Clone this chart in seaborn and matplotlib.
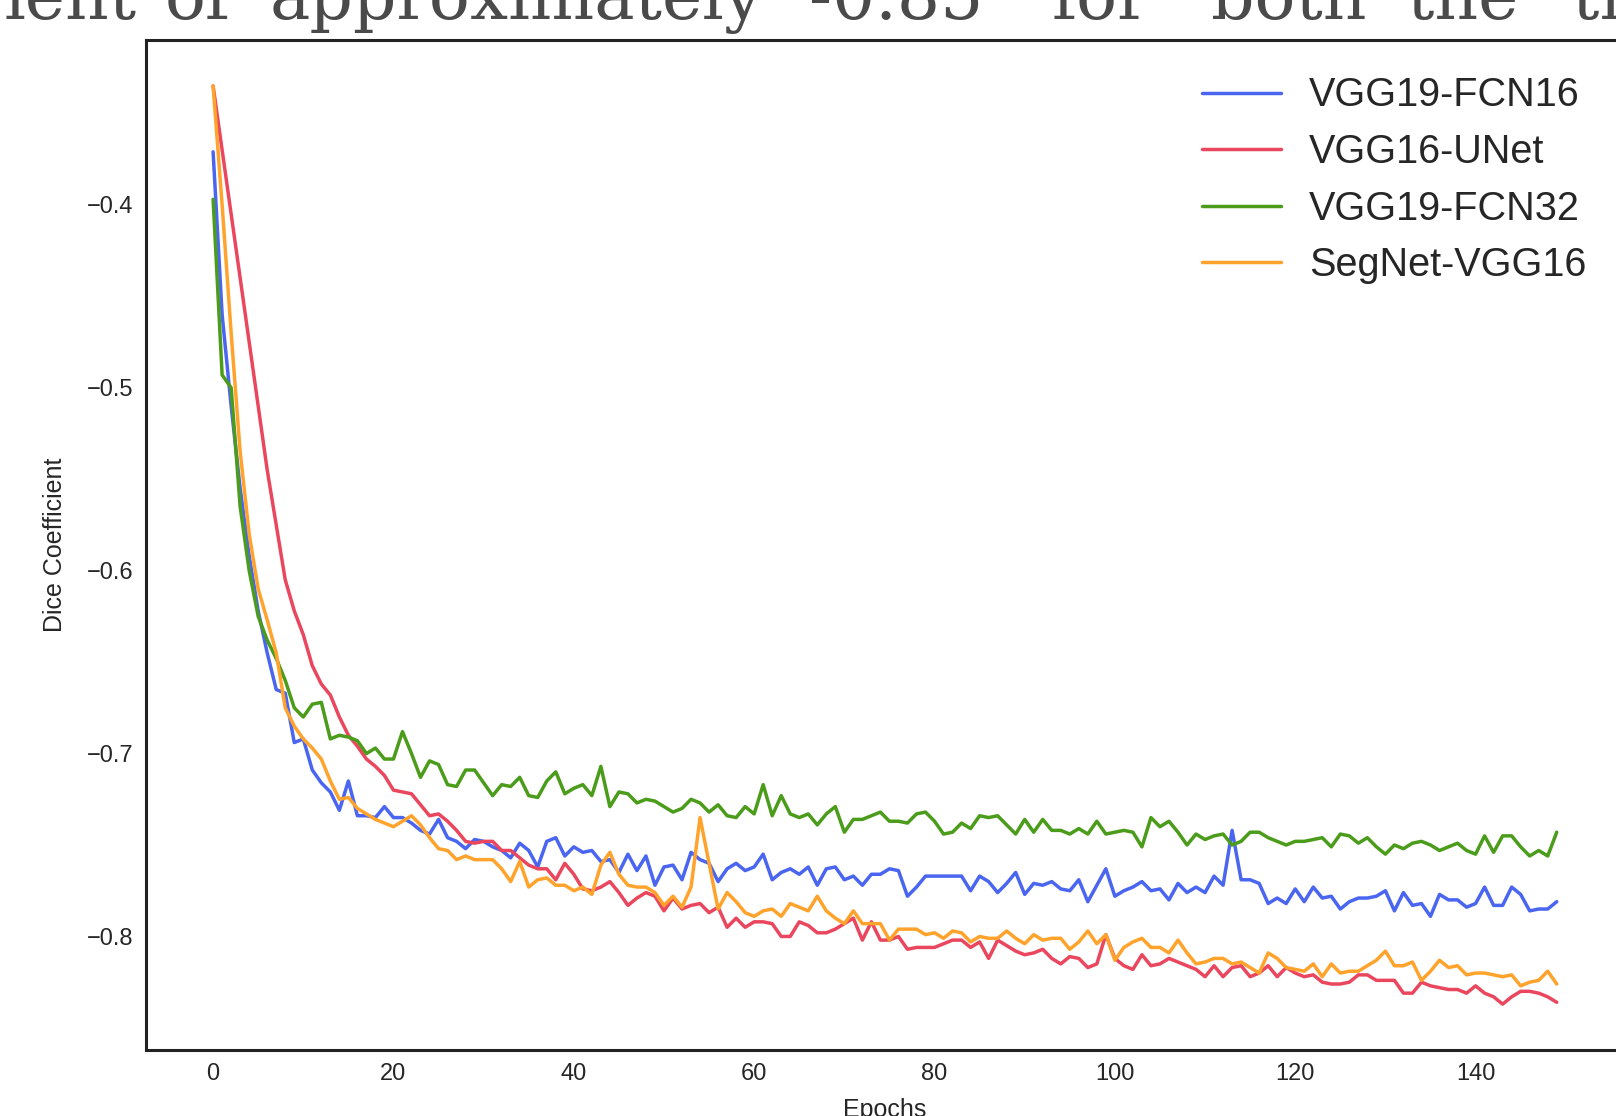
import matplotlib
matplotlib.use('Agg')
import numpy as np
import matplotlib.pyplot as plt
import seaborn as sns

# dice coefficient per epoch
fcn16 = [-0.371, -0.460, -0.510, -0.555, -0.592, -0.622, -0.645, -0.665, -0.667, -0.694,
         -0.692, -0.709, -0.716, -0.721, -0.731, -0.715, -0.734, -0.734, -0.735, -0.729,
         -0.735, -0.735, -0.738, -0.742, -0.744, -0.736, -0.746, -0.748, -0.752, -0.747,
         -0.748, -0.751, -0.753, -0.757, -0.749, -0.753, -0.762, -0.748, -0.746, -0.756,
         -0.751, -0.754, -0.753, -0.759, -0.758, -0.765, -0.755, -0.764, -0.756, -0.772,
         -0.762, -0.761, -0.769, -0.754, -0.758, -0.760, -0.770, -0.763, -0.760, -0.764,
         -0.762, -0.755, -0.769, -0.765, -0.763, -0.766, -0.762, -0.772, -0.763, -0.762,
         -0.769, -0.767, -0.772, -0.766, -0.766, -0.763, -0.764, -0.778, -0.773, -0.767,
         -0.767, -0.767, -0.767, -0.767, -0.775, -0.767, -0.770, -0.776, -0.771, -0.765,
         -0.777, -0.771, -0.772, -0.770, -0.774, -0.775, -0.769, -0.781, -0.772, -0.763,
         -0.778, -0.775, -0.773, -0.770, -0.775, -0.774, -0.780, -0.771, -0.776, -0.773,
         -0.776, -0.767, -0.772, -0.742, -0.769, -0.769, -0.771, -0.782, -0.779, -0.782,
         -0.774, -0.781, -0.773, -0.779, -0.778, -0.785, -0.781, -0.779, -0.779, -0.778,
         -0.775, -0.786, -0.776, -0.783, -0.782, -0.789, -0.777, -0.780, -0.780, -0.784,
         -0.782, -0.773, -0.783, -0.783, -0.773, -0.777, -0.786, -0.785, -0.785, -0.781]

unet = [-0.335, -0.370, -0.405, -0.440, -0.475, -0.510, -0.545, -0.575, -0.605, -0.622,
        -0.635, -0.652, -0.662, -0.668, -0.680, -0.690, -0.696, -0.703, -0.707, -0.712,
        -0.720, -0.721, -0.722, -0.728, -0.734, -0.733, -0.737, -0.742, -0.748, -0.749,
        -0.748, -0.748, -0.753, -0.753, -0.757, -0.761, -0.763, -0.763, -0.769, -0.760,
        -0.766, -0.774, -0.775, -0.773, -0.770, -0.776, -0.783, -0.779, -0.776, -0.778,
        -0.786, -0.779, -0.785, -0.783, -0.782, -0.787, -0.784, -0.795, -0.790, -0.795,
        -0.792, -0.792, -0.793, -0.800, -0.800, -0.792, -0.794, -0.798, -0.798, -0.796,
        -0.793, -0.790, -0.802, -0.792, -0.802, -0.802, -0.800, -0.807, -0.806, -0.806,
        -0.806, -0.804, -0.802, -0.802, -0.806, -0.803, -0.812, -0.802, -0.805, -0.808,
        -0.810, -0.809, -0.807, -0.812, -0.815, -0.811, -0.812, -0.817, -0.815, -0.799,
        -0.812, -0.816, -0.818, -0.810, -0.816, -0.815, -0.812, -0.814, -0.816, -0.818,
        -0.822, -0.816, -0.822, -0.817, -0.816, -0.822, -0.820, -0.816, -0.822, -0.817,
        -0.820, -0.822, -0.821, -0.825, -0.826, -0.826, -0.825, -0.821, -0.821, -0.824,
        -0.824, -0.824, -0.831, -0.831, -0.825, -0.827, -0.828, -0.829, -0.829, -0.831,
        -0.827, -0.831, -0.833, -0.837, -0.833, -0.830, -0.830, -0.831, -0.833, -0.836]

fcn32 = [-0.397, -0.493, -0.500, -0.565, -0.600, -0.625, -0.638, -0.648, -0.660, -0.675,
         -0.680, -0.673, -0.672, -0.692, -0.690, -0.691, -0.693, -0.700, -0.697, -0.703,
         -0.703, -0.688, -0.700, -0.713, -0.704, -0.706, -0.717, -0.718, -0.709, -0.709,
         -0.716, -0.723, -0.717, -0.718, -0.713, -0.723, -0.724, -0.715, -0.710, -0.722,
         -0.719, -0.717, -0.723, -0.707, -0.729, -0.721, -0.722, -0.727, -0.725, -0.726,
         -0.729, -0.732, -0.730, -0.725, -0.727, -0.732, -0.728, -0.734, -0.735, -0.729,
         -0.733, -0.717, -0.734, -0.723, -0.733, -0.735, -0.733, -0.739, -0.733, -0.729,
         -0.743, -0.736, -0.736, -0.734, -0.732, -0.737, -0.737, -0.738, -0.733, -0.732,
         -0.737, -0.744, -0.743, -0.738, -0.741, -0.734, -0.735, -0.734, -0.739, -0.744,
         -0.736, -0.743, -0.736, -0.742, -0.742, -0.744, -0.741, -0.744, -0.737, -0.744,
         -0.743, -0.742, -0.743, -0.751, -0.735, -0.740, -0.737, -0.743, -0.750, -0.744,
         -0.747, -0.745, -0.744, -0.750, -0.748, -0.743, -0.743, -0.746, -0.748, -0.750,
         -0.748, -0.748, -0.747, -0.746, -0.751, -0.744, -0.745, -0.749, -0.746, -0.751,
         -0.755, -0.750, -0.752, -0.749, -0.748, -0.750, -0.753, -0.751, -0.749, -0.753,
         -0.755, -0.745, -0.754, -0.745, -0.745, -0.751, -0.756, -0.753, -0.756, -0.743]

segnet = [-0.335, -0.400, -0.470, -0.535, -0.580, -0.610, -0.627, -0.645, -0.675, -0.685,
          -0.692, -0.697, -0.703, -0.715, -0.725, -0.724, -0.730, -0.733, -0.736, -0.738,
          -0.740, -0.737, -0.734, -0.739, -0.746, -0.752, -0.753, -0.758, -0.756, -0.758,
          -0.758, -0.758, -0.763, -0.770, -0.759, -0.773, -0.769, -0.768, -0.772, -0.772,
          -0.775, -0.773, -0.777, -0.761, -0.754, -0.766, -0.772, -0.773, -0.773, -0.776,
          -0.783, -0.778, -0.784, -0.773, -0.735, -0.760, -0.785, -0.776, -0.781, -0.787,
          -0.789, -0.786, -0.785, -0.789, -0.782, -0.784, -0.786, -0.778, -0.786, -0.790,
          -0.793, -0.786, -0.793, -0.793, -0.793, -0.802, -0.796, -0.796, -0.796, -0.799,
          -0.798, -0.801, -0.797, -0.798, -0.803, -0.800, -0.801, -0.801, -0.797, -0.801,
          -0.804, -0.799, -0.802, -0.801, -0.801, -0.807, -0.803, -0.797, -0.804, -0.799,
          -0.813, -0.806, -0.803, -0.801, -0.806, -0.806, -0.809, -0.802, -0.809, -0.815,
          -0.814, -0.812, -0.812, -0.815, -0.814, -0.817, -0.820, -0.809, -0.812, -0.817,
          -0.818, -0.819, -0.815, -0.822, -0.815, -0.820, -0.819, -0.819, -0.816, -0.813,
          -0.808, -0.816, -0.816, -0.814, -0.824, -0.819, -0.813, -0.817, -0.816, -0.821,
          -0.820, -0.820, -0.821, -0.822, -0.821, -0.827, -0.825, -0.824, -0.819, -0.826]

models = ['VGG19-FCN16', 'VGG16-UNet', 'VGG19-FCN32', 'SegNet-VGG16']
colors = ['#4a66f0', '#ea475e', '#4c9c1c', '#ffa32c']
epochs = np.arange(len(fcn16))

# words of the cut-off page sentence above the chart (justified text)
caption_words = ['ient', 'of', 'approximately', '-0.85', 'for', 'both', 'the', 'tra']
caption_x_px = [4, 165, 270, 809, 1051, 1211, 1407, 1572]

sns.set_style('white')
plt.rcParams['font.family'] = ['Liberation Sans', 'DejaVu Sans']

fig = plt.figure(figsize=(16.16, 11.16), dpi=100)
ax = fig.add_axes([0.0903, 0.0591, 0.9146, 0.905])

for name, vals, c in zip(models, [fcn16, unet, fcn32, segnet], colors):
    sns.lineplot(x=epochs, y=vals, ax=ax, color=c, linewidth=2.5, label=name)

ax.set_xticks(range(0, 141, 20))
ax.set_yticks([-0.4, -0.5, -0.6, -0.7, -0.8])
ax.tick_params(labelsize=17, pad=9, length=0)
ax.set_xlabel('Epochs', fontsize=18, labelpad=10)
ax.set_ylabel('Dice Coefficient', fontsize=18, labelpad=14)
for s in ax.spines.values():
    s.set_color('#222222')
    s.set_linewidth(2.2)

ax.legend(loc='upper left', bbox_to_anchor=(0.7145, 0.964), frameon=False,
          fontsize=28.5, handlelength=2.0, handletextpad=0.7,
          labelspacing=0.47, borderpad=0, borderaxespad=0)

for w, xp in zip(caption_words, caption_x_px):
    fig.text(xp / 1616, 1 - 19 / 1116, w, fontsize=49, family=['DejaVu Serif'],
             color='#4a4a4a', ha='left', va='baseline')

fig.savefig('out.png', dpi=100)
